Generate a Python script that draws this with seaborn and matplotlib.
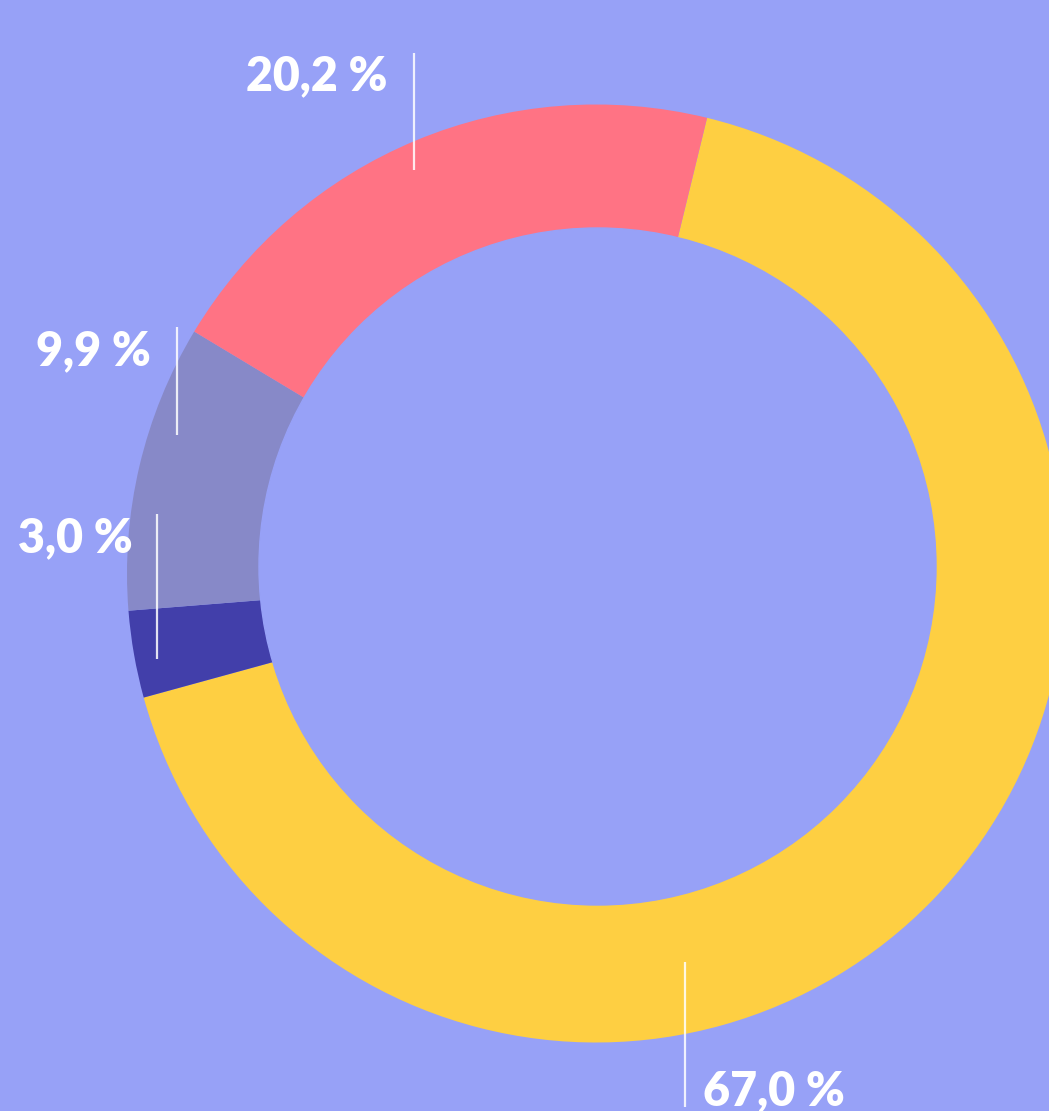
import matplotlib
matplotlib.use("Agg")
import matplotlib.pyplot as plt
import seaborn as sns

# chart data (clockwise from the top-right boundary)
shares = [67.0, 3.0, 9.9, 20.2]
labels = ["67,0 %", "3,0 %", "9,9 %", "20,2 %"]
colors = ["#FECF42", "#423FAA", "#8789C8", "#FF7384"]
bg = "#97A1F7"

W, H = 1049, 1111

sns.set_style("white")
plt.rcParams["font.family"] = ["Lato", "DejaVu Sans"]

fig = plt.figure(figsize=(W / 100, H / 100), dpi=100)
fig.patch.set_facecolor(bg)
ax = fig.add_axes([0, 0, 1, 1])
ax.set_facecolor(bg)

# ring: full pie, then a background disc as the hole
ax.pie(shares, colors=colors, startangle=76.3, counterclock=False,
       center=(596, H - 573.5), radius=469,
       wedgeprops=dict(linewidth=0), frame=True)
ax.add_patch(plt.Circle((597.5, H - 566.5), 338.5, color=bg, zorder=5))

# label layout: (text anchor x, text top y, line x, line y0, line y1, ha)
layout = {
    "67,0 %": (703, 1069, 685, 962, 1107, "left"),
    "3,0 %": (133, 516, 157, 514, 659, "right"),
    "9,9 %": (151, 329, 177, 327, 435, "right"),
    "20,2 %": (388, 54, 414, 53, 170, "right"),
}
for lab in labels:
    tx, ty, lx, ly0, ly1, ha = layout[lab]
    ax.plot([lx, lx], [H - ly0, H - ly1], color="white", lw=1.6,
            alpha=0.85, zorder=6, solid_capstyle="butt")
    ax.text(tx, H - ty, lab, color="white", fontsize=33.5, fontweight="heavy",
            ha=ha, va="top", zorder=7)

ax.set_xlim(0, W)
ax.set_ylim(0, H)
ax.set_aspect("auto")
ax.axis("off")

fig.savefig("out.png", dpi=100, facecolor=bg)
